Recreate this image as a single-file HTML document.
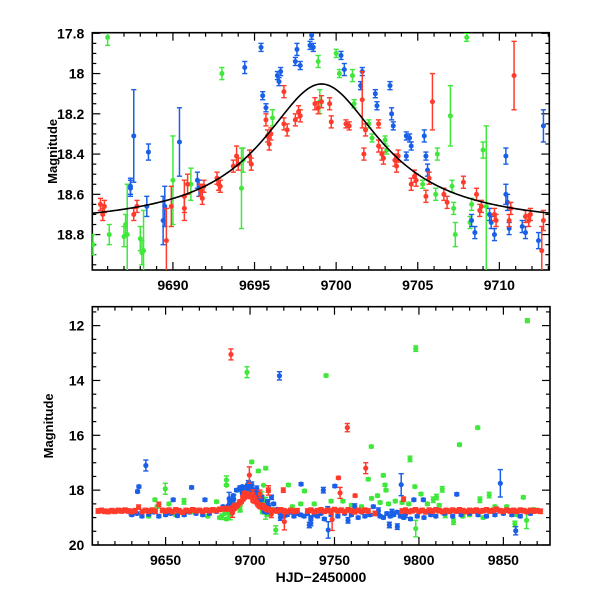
<!DOCTYPE html>
<html><head><meta charset="utf-8"><style>
html,body{margin:0;padding:0;background:#fff;}
svg{display:block;font-family:"Liberation Sans",sans-serif;font-weight:bold;}
</style></head><body>
<svg id="chart" width="600" height="600" viewBox="0 0 600 600">
<defs>
<clipPath id="clipTop"><rect x="92" y="33" width="457" height="237"/></clipPath>
<clipPath id="clipBot"><rect x="92" y="307" width="458" height="238"/></clipPath>
</defs>
<g id="top"></g>
<g id="bot"></g>
</svg>
<script>
// ---- TOP PANEL DATA ----
const topRedT=[9685.56,9685.7,9685.8,9687.6,9687.8,9689.6,9689.9,9690.7,9690.7,9690.9,9691.7,9691.8,9691.9,9692.7,9692.8,9692.9,9693.7,9693.9,9694.0,9694.7,9694.8,9695.7,9695.8,9695.9,9696.0,9696.8,9696.8,9697.0,9697.5,9697.7,9697.8,9698.7,9698.9,9699.1,9699.6,9699.7,9700.6,9700.8,9701.6,9701.7,9701.8,9702.6,9702.6,9702.8,9702.9,9703.6,9703.7,9703.8,9704.6,9704.8,9704.9,9705.5,9705.7,9705.9,9706.6,9706.8,9707.8,9708.6,9708.8,9708.9,9709.7,9709.8,9710.6,9710.7,9710.9,9711.6,9711.8,9711.9,9712.6,9712.7];
const topRedM=[18.65,18.70,18.66,18.70,18.66,18.83,18.66,18.61,18.67,18.55,18.58,18.62,18.56,18.52,18.55,18.56,18.46,18.41,18.45,18.41,18.45,18.23,18.31,18.35,18.30,18.09,18.25,18.28,18.23,18.19,18.21,18.15,18.17,18.14,18.15,18.24,18.25,18.26,18.13,18.40,18.28,18.25,18.36,18.40,18.42,18.43,18.46,18.41,18.55,18.51,18.53,18.61,18.52,18.14,18.60,18.64,18.54,18.60,18.68,18.66,18.70,18.73,18.73,18.67,18.01,18.71,18.73,18.70,18.88,18.73];
const topRedE=[.03,.03,.03,.03,.03,.16,.1,.08,.06,.05,.03,.03,.03,.03,.03,.03,.03,.05,.03,.03,.03,.03,.03,.03,.03,.03,.03,.03,.03,.03,.03,.03,.03,.03,.03,.03,.02,.02,.14,.03,.03,.02,.03,.03,.03,.03,.03,.03,.03,.03,.03,.03,.03,.14,.03,.03,.03,.03,.03,.03,.03,.03,.03,.03,.17,.03,.03,.03,.12,.05];
const topBlueT=[9687.6,9687.4,9687.4,9688.4,9688.5,9689.4,9689.5,9690.4,9691.5,9691.6,9694.4,9695.4,9695.5,9695.7,9696.4,9696.5,9696.6,9697.6,9697.5,9697.8,9698.4,9698.6,9698.5,9700.3,9700.5,9701.6,9701.5,9702.4,9702.5,9703.3,9703.4,9703.5,9704.3,9704.5,9704.6,9704.3,9705.4,9705.5,9705.6,9708.3,9708.5,9709.4,9709.5,9709.7,9710.4,9710.4,9710.5,9710.6,9711.4,9711.6,9712.4,9712.7];
const topBlueM=[18.31,18.56,18.57,18.66,18.39,18.73,18.66,18.34,18.53,18.57,17.97,17.87,18.11,18.17,18.01,18.04,17.99,17.88,17.94,17.96,17.86,17.87,17.81,17.91,17.98,17.99,18.06,18.10,18.16,18.06,18.20,18.26,18.31,18.32,18.36,18.41,18.31,18.41,18.48,18.73,18.79,18.70,18.74,18.80,18.41,18.60,18.64,18.77,18.76,18.79,18.83,18.26];
const topBlueE=[.23,.04,.04,.05,.04,.12,.1,.17,.04,.04,.03,.02,.02,.02,.02,.02,.02,.03,.02,.02,.02,.02,.02,.02,.03,.02,.02,.02,.02,.02,.03,.02,.02,.02,.02,.02,.03,.02,.03,.03,.03,.03,.03,.03,.04,.05,.04,.03,.03,.03,.04,.08];
const topGreenT=[9686.0,9685.1,9686.1,9687.0,9687.1,9687.2,9688.0,9688.1,9688.2,9690.0,9691.1,9693.0,9694.2,9694.3,9696.1,9698.9,9699.0,9700.0,9700.2,9701.0,9701.1,9702.0,9702.2,9703.0,9703.1,9705.3,9706.1,9706.2,9707.0,9707.1,9707.2,9707.3,9708.0,9708.2,9708.3,9709.0,9709.2];
const topGreenM=[17.82,18.85,18.80,18.81,18.75,18.80,18.82,18.89,18.88,18.53,18.55,18.00,18.57,18.43,18.22,17.94,18.14,17.90,18.00,18.01,18.15,18.25,18.32,18.33,18.38,18.55,18.60,18.40,18.21,18.56,18.67,18.80,17.82,18.74,18.65,18.38,18.66];
const topGreenE=[.04,.05,.05,.05,.05,.25,.06,.06,.2,.22,.08,.03,.2,.06,.04,.03,.06,.02,.02,.03,.02,.02,.02,.02,.02,.02,.03,.03,.15,.03,.03,.06,.02,.03,.03,.04,.4];
// ---- BOTTOM PANEL EXTRA DATA ----
const botRedT=[9610,9612,9614,9616,9618,9620,9622,9624,9626,9628,9630,9632,9634,9636,9638,9640,9642,9644,9646,9648,9650,9652,9654,9656,9658,9660,9662,9664,9666,9668,9670,9672,9674,9676,9678,9680,9682,9684,9714,9716,9718,9720,9722,9724,9726,9728,9734,9736,9738,9740,9742,9744,9746,9748,9750,9752,9754,9756,9758,9760,9762,9764,9766,9768,9770,9774,9790,9792,9794,9796,9798,9800,9802,9804,9806,9808,9810,9812,9814,9816,9818,9820,9822,9824,9826,9828,9830,9832,9834,9836,9838,9840,9842,9844,9846,9848,9850,9852,9854,9856,9858,9860,9862,9864,9866,9868,9870,9872,
9688.7,9699.6,9757.6,9768.5,9752.3,9720.3,9748.6,9710.8,9719.7,9762.2,9790.9,9753.3];
const botRedM=[18.76,18.74,18.77,18.78,18.75,18.77,18.74,18.76,18.73,18.76,18.78,18.75,18.62,18.78,18.74,18.76,18.73,18.77,18.52,18.74,18.76,18.73,18.78,18.72,18.75,18.8,18.74,18.76,18.72,18.75,18.74,18.77,18.73,18.75,18.72,18.74,18.70,18.68,18.74,18.76,18.72,18.75,18.78,18.74,18.77,18.75,18.76,18.73,18.78,18.75,18.72,18.77,18.74,18.80,18.71,18.76,18.73,18.78,18.72,18.75,18.79,18.74,18.77,18.73,18.76,18.85,18.76,18.73,18.78,18.75,18.72,18.77,18.74,18.79,18.73,18.76,18.72,18.75,18.78,18.74,18.77,18.73,18.76,18.72,18.75,18.78,18.74,18.76,18.73,18.77,18.75,18.72,18.76,18.74,18.70,18.75,18.77,18.73,18.76,18.74,18.77,18.73,18.75,18.78,18.74,18.76,18.75,18.77,
13.05,17.45,15.72,17.2,17.55,19.15,19.07,18.0,18.0,18.2,18.33,18.1];
const botRedE=[.08,.08,.08,.08,.08,.08,.08,.08,.08,.08,.08,.08,.08,.08,.08,.08,.08,.08,.08,.08,.08,.08,.08,.08,.08,.08,.08,.08,.08,.08,.08,.08,.08,.08,.08,.08,.08,.08,.08,.08,.08,.08,.08,.08,.08,.08,.08,.08,.08,.08,.08,.08,.08,.08,.08,.08,.08,.08,.08,.08,.08,.08,.08,.08,.08,.08,.08,.08,.08,.08,.08,.08,.08,.08,.08,.08,.08,.08,.08,.08,.08,.08,.08,.08,.08,.08,.08,.08,.08,.08,.08,.08,.08,.08,.08,.08,.08,.08,.08,.08,.08,.08,.08,.08,.08,.08,.08,.08,
.2,.3,.15,.2,.05,.3,.4,.08,.08,.05,.08,.2];
const botBlueT=[9638.3,9633.4,9634.2,9665.4,9717.4,9730.2,9743.4,9750.2,9789.5,9848.2,9822.4,9746.3,9857.3,9782.5,9787.2,9735.1,9797,9802.6,9654.5,9673.3,9629.6,
9630,9633,9636,9640,9643,9646,9650,9653,9657,9661,9664,9668,9672,9676,9680,9684,9688,9690,9692,9694,9714,9716,9718,9720,9722,9724,9726,9728,9730,9732,9734,9736,9738,9740,9742,9744,9748,9752,9756,9760,9764,9766,9768,9771,9773,9775,9777,9779,9781,9783,9785,9787,9789,9791,9795,9799,9803,9807,9810,9815,9820,9825,9830,9835,9840,9845,9850,9855,9860,9866,9736,9758,9718,
9699,9701,9704,9707,9711,9746,9762,9776,9784,9792];
const botBlueM=[17.1,18.05,17.87,17.9,13.83,17.78,18.0,17.85,17.8,17.75,18.15,19.45,19.48,19.27,19.33,19.27,18.35,18.35,18.35,18.35,18.85,
18.9,18.85,18.95,18.88,18.8,18.95,18.9,18.85,18.93,18.9,18.8,18.85,18.9,18.85,18.78,18.6,18.45,18.2,18.0,17.9,18.5,18.7,18.85,18.95,18.9,18.8,18.95,18.85,18.9,18.95,18.85,19.0,18.9,18.95,18.85,19.05,18.9,18.95,18.85,18.9,19.0,18.8,18.95,18.9,18.6,18.85,18.95,19.0,18.85,18.95,18.9,18.8,18.95,19.0,19.05,18.95,19.0,18.9,18.95,18.85,18.95,18.9,18.85,18.9,18.95,18.9,18.85,18.9,18.95,18.85,19.2,19.1,19.0,
17.75,17.8,17.95,18.3,18.6,18.7,18.6,18.75,18.8,18.9];
const botBlueE=[.2,.05,.05,.05,.15,.05,.1,.05,.4,.5,.05,.3,.15,.1,.1,.1,.05,.05,.05,.05,.05,
.05,.05,.05,.05,.05,.05,.05,.05,.05,.05,.05,.05,.05,.05,.05,.05,.05,.05,.05,.05,.05,.05,.05,.05,.05,.05,.05,.05,.05,.05,.05,.05,.05,.05,.05,.05,.05,.05,.05,.05,.05,.05,.05,.05,.05,.05,.05,.05,.05,.05,.05,.05,.05,.05,.05,.05,.05,.05,.05,.05,.05,.05,.05,.05,.05,.05,.05,.05,.05,.05,.1,.1,.1,
.1,.1,.1,.1,.1,.1,.1,.1,.1,.1];
const botGreenT=[9698.2,9745.0,9798.1,9864.2,9771.8,9794.7,9824.0,9834.8,9686.0,9701.0,9704.9,9709.3,9649.8,9770.0,9778.9,9779.9,9780.5,9797.6,9801.2,9813.8,9861.8,9798.1,9715.2,9856.8,9863.7,9722.7,9732.2,9841.6,9836.1,9810.4,9808.5,9775.5,9660.9,9643.7,9680.2,9683.2,9694,9815.6,9820.5,
9640,9645,9652,9656,9665,9675,9682,9686,9690,9710,9713,9725,9730,9738,9742,9748,9755,9760,9766,9772,9777,9782,9786,9790,9794,9805,9812,9818,9826,9830,9838,9845,9852,9858,9868];
const botGreenM=[13.7,13.82,12.84,11.82,16.41,16.86,16.34,15.72,17.63,16.97,17.3,17.2,17.95,17.6,17.46,17.81,18.0,17.87,18.14,17.97,18.26,19.4,19.45,19.23,19.1,17.81,18.03,18.18,18.35,18.25,18.35,18.2,18.41,18.35,18.42,18.97,18.7,18.9,19.15,
18.95,18.6,18.5,18.9,18.8,18.95,19.0,19.05,18.7,18.9,18.7,18.6,18.5,18.5,18.7,18.4,18.4,18.55,18.6,18.3,18.45,18.5,18.4,18.45,18.5,18.5,18.55,18.75,18.95,18.9,19.0,18.6,18.6,18.9,18.7];
const botGreenE=[.2,.05,.1,.07,.05,.1,.05,.05,.15,.05,.05,.05,.2,.05,.05,.05,.05,.05,.05,.1,.05,.3,.15,.1,.3,.05,.05,.1,.1,.1,.1,.05,.1,.05,.05,.1,.1,.1,.1,
.05,.05,.05,.05,.05,.05,.05,.05,.05,.05,.05,.05,.05,.05,.05,.05,.05,.05,.05,.05,.05,.05,.05,.05,.05,.05,.05,.05,.05,.05,.05,.05,.05,.05,.05];
// model curve parameters (baseline, amplitude, peak time, width)
const modelParams=[18.76,0.92,9699.1,3.8];
const topXTicks=[9690,9695,9700,9705,9710];
const topYTicks=[17.8,18,18.2,18.4,18.6,18.8];
const botXTicks=[9650,9700,9750,9800,9850];
const botYTicks=[12,14,16,18,20];

const NS="http://www.w3.org/2000/svg";
const COL={red:"#ff3b2c",blue:"#1a5fe8",green:"#3fe83a"};
function mk(tag,attrs,parent){const e=document.createElementNS(NS,tag);for(const k in attrs)e.setAttribute(k,attrs[k]);parent.appendChild(e);return e;}

function panel(g,P){
  const sx=t=>P.x0+(t-P.t0)/(P.t1-P.t0)*(P.x1-P.x0);
  const sy=m=>P.y0+(m-P.m0)/(P.m1-P.m0)*(P.y1-P.y0);
  const fr=mk('rect',{x:P.x0,y:P.y0,width:P.x1-P.x0,height:P.y1-P.y0,fill:'none',stroke:'#000','stroke-width':1.6},g);
  
  
  const tg=mk('g',{stroke:'#000','stroke-width':1.2},g);
  
  
  for(let t=Math.ceil(P.t0/P.xm)*P.xm;t<=P.t1;t+=P.xm){
    const x=sx(t);const maj=Math.abs(t/P.xM-Math.round(t/P.xM))<1e-6;const L=maj?8:4;
    mk('line',{x1:x,x2:x,y1:P.y1,y2:P.y1-L},tg);mk('line',{x1:x,x2:x,y1:P.y0,y2:P.y0+L},tg);
  }
  for(let k=Math.ceil(P.m0/P.ym-1e-6);k*P.ym<=P.m1+1e-6;k++){
    const m=k*P.ym;const y=sy(m);const maj=Math.abs(m/P.yM-Math.round(m/P.yM))<1e-6;const L=maj?8:4;
    mk('line',{x1:P.x0,x2:P.x0+L,y1:y,y2:y},tg);mk('line',{x1:P.x1,x2:P.x1-L,y1:y,y2:y},tg);
  }
  P.xt.forEach(t=>{const e=mk('text',{x:sx(t),y:P.y1+20,'text-anchor':'middle','font-size':14},g);e.textContent=String(t);
    
    });
  P.yt.forEach(m=>{const e=mk('text',{x:P.x0-8,y:sy(m)+5,'text-anchor':'end','font-size':14},g);e.textContent=String(m);
    
    });
  const yl=mk('text',{x:0,y:0,'text-anchor':'middle','font-size':13,transform:`translate(${P.ylx},${(P.y0+P.y1)/2}) rotate(-90)`},g);
  yl.textContent='Magnitude';
  
  
  const dg=mk('g',{'clip-path':`url(#${P.clip})`},g);
  
  
  return {sx,sy,dg};
}
function series(A,T,M,E,color,name,r){
  const g=mk('g',{fill:color,stroke:color},A.dg);
  
  
  for(let i=0;i<T.length;i++){
    const x=A.sx(T[i]),y=A.sy(M[i]),ya=A.sy(M[i]-E[i]),yb=A.sy(M[i]+E[i]);
    mk('line',{x1:x,x2:x,y1:ya,y2:yb,'stroke-width':1.5},g);
    mk('line',{x1:x-2.6,x2:x+2.6,y1:ya,y2:ya,'stroke-width':1.4},g);
    mk('line',{x1:x-2.6,x2:x+2.6,y1:yb,y2:yb,'stroke-width':1.4},g);
    const c=mk('circle',{cx:x,cy:y,r:r,stroke:'none'},g);
    
    
  }
}
const topG=document.getElementById('top'),botG=document.getElementById('bot');
const A=panel(topG,{x0:92.3,x1:549.3,y0:32.7,y1:270,t0:9685.06,t1:9713.06,m0:17.797,m1:18.976,xm:1,xM:5,ym:0.05,yM:0.2,xt:topXTicks,yt:topYTicks,ylx:57,clip:'clipTop'});
series(A,topGreenT,topGreenM,topGreenE,COL.green,'green-series-top',2.5);
series(A,topBlueT,topBlueM,topBlueE,COL.blue,'blue-series-top',2.5);
series(A,topRedT,topRedM,topRedE,COL.red,'red-series-top',2.5);
(function(){let d='';for(let t=9685;t<=9713.2;t+=0.1){const[m0,a,t0,w]=modelParams;const F=1+a/(1+((t-t0)/w)**2);const m=m0-2.5*Math.log10(F);d+=(d?'L':'M')+A.sx(t).toFixed(2)+','+A.sy(m).toFixed(2);}
const p=mk('path',{d:d,fill:'none',stroke:'#000','stroke-width':1.6},A.dg);

})();

const B=panel(botG,{x0:92.3,x1:550,y0:306.7,y1:545,t0:9606.6,t1:9877.6,m0:11.31,m1:20,xm:10,xM:50,ym:0.5,yM:2,xt:botXTicks,yt:botYTicks,ylx:53,clip:'clipBot'});
series(B,botGreenT,botGreenM,botGreenE,COL.green,'green-series-bottom',2.6);
series(B,topGreenT,topGreenM,topGreenE,COL.green,'green-series-bottom-peak',2.6);
series(B,botBlueT,botBlueM,botBlueE,COL.blue,'blue-series-bottom',2.6);
series(B,topBlueT,topBlueM,topBlueE,COL.blue,'blue-series-bottom-peak',2.6);
series(B,botRedT,botRedM,botRedE,COL.red,'red-series-bottom',2.6);
series(B,topRedT,topRedM,topRedE,COL.red,'red-series-bottom-peak',2.6);
const xl=mk('text',{x:321,y:582,'text-anchor':'middle','font-size':14},botG);
xl.textContent='HJD\u22122450000';


</script>
</body></html>
